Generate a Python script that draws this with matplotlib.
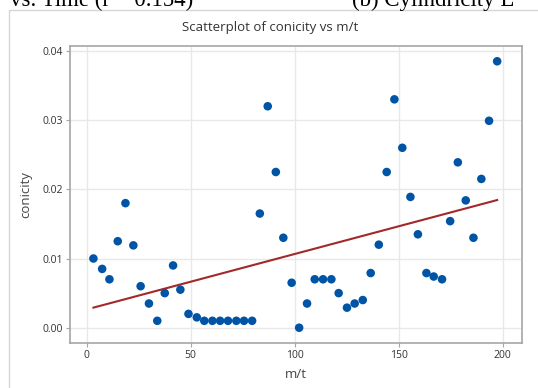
import matplotlib
matplotlib.use("Agg")
import matplotlib.pyplot as plt
import numpy as np

# m/t vs conicity measurements
m_t = [3.3, 7.5, 11.0, 15.0, 18.7, 22.5, 26.0, 30.0, 34.0, 37.6,
       41.6, 45.1, 49.0, 53.0, 56.6, 60.5, 64.2, 68.0, 72.0, 75.7,
       79.6, 83.3, 87.1, 91.0, 94.6, 98.6, 102.2, 106.0, 109.7, 113.7,
       117.7, 121.2, 125.2, 128.9, 132.8, 136.6, 140.5, 144.3, 148.0, 151.8,
       155.7, 159.3, 163.4, 166.9, 170.9, 174.8, 178.5, 182.3, 186.0, 189.8,
       193.5, 197.4]
conicity = [0.0100, 0.0085, 0.0070, 0.0125, 0.0180, 0.0119, 0.0060, 0.0035, 0.0010, 0.0050,
            0.0090, 0.0055, 0.0020, 0.0015, 0.0010, 0.0010, 0.0010, 0.0010, 0.0010, 0.0010,
            0.0010, 0.0165, 0.0320, 0.0225, 0.0130, 0.0065, 0.0000, 0.0035, 0.0070, 0.0070,
            0.0070, 0.0050, 0.0029, 0.0035, 0.0040, 0.0079, 0.0120, 0.0225, 0.0330, 0.0260,
            0.0189, 0.0135, 0.0079, 0.0074, 0.0070, 0.0154, 0.0239, 0.0184, 0.0130, 0.0215,
            0.0299, 0.0385]

x_ticks = [0, 50, 100, 150, 200]
y_ticks = [0.00, 0.01, 0.02, 0.03, 0.04]

W, H = 538, 388
fig = plt.figure(figsize=(W / 100, H / 100), dpi=100)

# caption fragments from the surrounding page
fig.text(193 / W, 1 - 6 / H, "vs. Time (r = 0.154)", family="Liberation Serif",
         fontsize=16.5, ha="right", va="baseline", color="black")
fig.text(352 / W, 1 - 6 / H, "(b) Cylindricity L", family="Liberation Serif",
         fontsize=16.5, ha="left", va="baseline", color="black")

# light panel frame
fig.add_artist(plt.Rectangle((9 / W, -0.1), 1.2, 1 - 10 / H + 0.1,
                             transform=fig.transFigure, fill=False,
                             edgecolor="#d6d6d6", lw=1.0))

ax = fig.add_axes([69.7 / W, 1 - 343.3 / H, (521.7 - 69.7) / W, (343.3 - 45.7) / H])

ax.grid(True, color="#e8e8e8", lw=1.0, zorder=0)
ax.set_axisbelow(True)

ax.scatter(m_t, conicity, s=38, color="#0054a6", edgecolors="none", zorder=3)

# least squares fit
coef = np.polyfit(m_t, conicity, 1)
xs = np.array([min(m_t), max(m_t)])
ax.plot(xs, np.polyval(coef, xs), color="#a3282a", lw=1.5, zorder=2)

ax.set_xlim(-8.1, 209.2)
ax.set_ylim(-0.00225, 0.04075)
ax.set_xticks(x_ticks)
ax.set_yticks(y_ticks)
ax.set_yticklabels(["%.2f" % v for v in y_ticks])

for s in ax.spines.values():
    s.set_color("#a6a6a6")
    s.set_linewidth(1.2)

ax.tick_params(axis="both", length=3, width=0.8, color="#a6a6a6",
               labelsize=7.5, labelcolor="#333333", pad=2)
for lab in ax.get_xticklabels() + ax.get_yticklabels():
    lab.set_family("Open Sans")

ax.set_xlabel("m/t", family="Open Sans", fontsize=9.5, color="#444444", labelpad=5)
ax.set_ylabel("conicity", family="Open Sans", fontsize=9.5, color="#444444", labelpad=7)

fig.text(270 / W, 1 - 28 / H, "Scatterplot of conicity vs m/t", family="Open Sans",
         fontsize=9.5, ha="center", va="center", color="#333333")

fig.savefig("out.png", dpi=100)
